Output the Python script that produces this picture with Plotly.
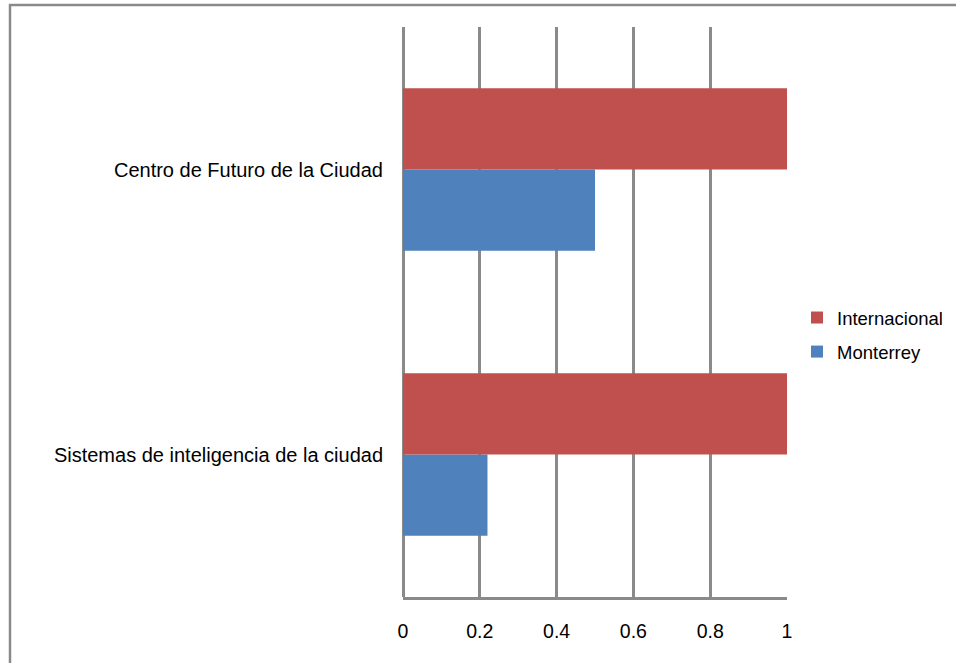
import plotly.graph_objects as go

categories = ["Sistemas de inteligencia de la ciudad", "Centro de Futuro de la Ciudad"]
monterrey = [0.22, 0.5]
internacional = [1.0, 1.0]
tick_vals = [0, 0.2, 0.4, 0.6, 0.8, 1]
tick_text = ["0", "0.2", "0.4", "0.6", "0.8", "1"]

OFF = 0  # body margin removed below
W, H = 956, 663
# target plot area in screenshot pixels
PX0, PX1, PY0, PY1 = 403, 787, 27, 597
L = PX0 - OFF
R = OFF + W - PX1
T = PY0 - OFF
B = OFF + H - PY1
pw, ph = PX1 - PX0, PY1 - PY0

grid = "#8a8a8a"
font_family = "Liberation Sans, Arial, sans-serif"

fig = go.Figure()
fig.add_trace(go.Bar(y=categories, x=monterrey, orientation="h", name="Monterrey",
                     legendgroup="m", legendrank=2,
                     marker=dict(color="#4F81BD", line=dict(width=0))))
fig.add_trace(go.Bar(y=categories, x=internacional, orientation="h", name="Internacional",
                     legendgroup="i", legendrank=1,
                     marker=dict(color="#C0504D", line=dict(width=0))))

def px_x(p):
    return (p - PX0) / pw

def px_y(p):
    return (PY1 - p) / ph

border = dict(color=grid, width=2.5)
fig.update_layout(
    width=W, height=H,
    margin=dict(l=L, r=R, t=T, b=B, pad=0, autoexpand=False),
    paper_bgcolor="white", plot_bgcolor="white",
    barmode="group", bargap=0.43, bargroupgap=0,
    font=dict(family=font_family, size=18, color="#000000"),
    showlegend=True,
    legend=dict(traceorder="grouped", xref="container", yref="container",
                x=797 / W, xanchor="left", y=(H - 335) / H, yanchor="middle",
                font=dict(size=18.5), bgcolor="rgba(0,0,0,0)", itemwidth=30, tracegroupgap=7),
    xaxis=dict(range=[0, 1], tickvals=tick_vals, ticktext=tick_text, showgrid=True,
               gridcolor=grid, gridwidth=2.5, zeroline=True, zerolinecolor=grid, zerolinewidth=2.5,
               showline=True, linecolor=grid, linewidth=2.5, ticks="", ticklabelstandoff=15,
               tickfont=dict(size=19.5), fixedrange=True),
    yaxis=dict(showgrid=False, zeroline=False, showline=False, ticks="", ticklabelstandoff=19,
               tickfont=dict(size=20), fixedrange=True),
    shapes=[
        dict(type="line", xref="paper", yref="paper",
             x0=px_x(9), x1=px_x(1100), y0=px_y(5), y1=px_y(5), line=border, layer="below"),
        dict(type="line", xref="paper", yref="paper",
             x0=px_x(10), x1=px_x(10), y0=px_y(4), y1=px_y(800), line=border, layer="below"),
    ],
)

fig.write_html("out.html", config={"displayModeBar": False},
               post_script="document.body.style.margin='0';document.body.style.overflow='hidden';")
